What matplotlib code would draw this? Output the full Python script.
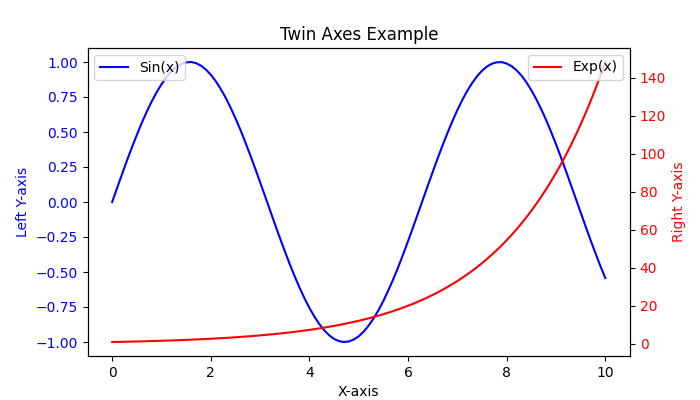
import matplotlib
matplotlib.use("Agg")
import matplotlib.pyplot as plt

# Values at a 0.1 step along the x-axis.
x_vals = [0.0, 0.1, 0.2, 0.3, 0.4, 0.5, 0.6, 0.7, 0.8, 0.9,
          1.0, 1.1, 1.2, 1.3, 1.4, 1.5, 1.6, 1.7, 1.8, 1.9,
          2.0, 2.1, 2.2, 2.3, 2.4, 2.5, 2.6, 2.7, 2.8, 2.9,
          3.0, 3.1, 3.2, 3.3, 3.4, 3.5, 3.6, 3.7, 3.8, 3.9,
          4.0, 4.1, 4.2, 4.3, 4.4, 4.5, 4.6, 4.7, 4.8, 4.9,
          5.0, 5.1, 5.2, 5.3, 5.4, 5.5, 5.6, 5.7, 5.8, 5.9,
          6.0, 6.1, 6.2, 6.3, 6.4, 6.5, 6.6, 6.7, 6.8, 6.9,
          7.0, 7.1, 7.2, 7.3, 7.4, 7.5, 7.6, 7.7, 7.8, 7.9,
          8.0, 8.1, 8.2, 8.3, 8.4, 8.5, 8.6, 8.7, 8.8, 8.9,
          9.0, 9.1, 9.2, 9.3, 9.4, 9.5, 9.6, 9.7, 9.8, 9.9,
          10.0]

sin_vals = [0.000, 0.100, 0.199, 0.296, 0.389, 0.479, 0.565, 0.644, 0.717, 0.783,
            0.841, 0.891, 0.932, 0.964, 0.985, 0.997, 1.000, 0.992, 0.974, 0.946,
            0.909, 0.863, 0.808, 0.746, 0.675, 0.598, 0.516, 0.427, 0.335, 0.239,
            0.141, 0.042, -0.058, -0.158, -0.256, -0.351, -0.443, -0.530, -0.612, -0.688,
            -0.757, -0.818, -0.872, -0.916, -0.952, -0.978, -0.994, -1.000, -0.996, -0.982,
            -0.959, -0.926, -0.883, -0.832, -0.773, -0.706, -0.631, -0.551, -0.465, -0.374,
            -0.279, -0.182, -0.083, 0.017, 0.117, 0.215, 0.312, 0.405, 0.494, 0.578,
            0.657, 0.729, 0.794, 0.850, 0.899, 0.938, 0.968, 0.988, 0.998, 0.999,
            0.989, 0.970, 0.941, 0.903, 0.855, 0.798, 0.734, 0.663, 0.585, 0.501,
            0.412, 0.319, 0.223, 0.124, 0.025, -0.075, -0.174, -0.272, -0.366, -0.458,
            -0.544]

exp_vals = [1.000, 1.051, 1.105, 1.162, 1.221, 1.284, 1.350, 1.419, 1.492, 1.568,
            1.649, 1.733, 1.822, 1.916, 2.014, 2.117, 2.226, 2.340, 2.460, 2.586,
            2.718, 2.858, 3.004, 3.158, 3.320, 3.490, 3.669, 3.857, 4.055, 4.263,
            4.482, 4.711, 4.953, 5.207, 5.474, 5.755, 6.050, 6.360, 6.686, 7.029,
            7.389, 7.768, 8.166, 8.585, 9.025, 9.488, 9.974, 10.486, 11.023, 11.588,
            12.182, 12.807, 13.464, 14.154, 14.880, 15.643, 16.445, 17.288, 18.174, 19.106,
            20.086, 21.115, 22.198, 23.336, 24.533, 25.790, 27.113, 28.503, 29.964, 31.500,
            33.115, 34.813, 36.598, 38.475, 40.447, 42.521, 44.701, 46.993, 49.402, 51.935,
            54.598, 57.397, 60.340, 63.434, 66.686, 70.105, 73.700, 77.478, 81.451, 85.627,
            90.017, 94.632, 99.484, 104.585, 109.947, 115.584, 121.510, 127.740, 134.290, 141.175,
            148.413]

fig, ax1 = plt.subplots(figsize=(7, 4), dpi=100)

ax1.plot(x_vals, sin_vals, color="blue", label="Sin(x)")
ax1.set_xlabel("X-axis")
ax1.set_ylabel("Left Y-axis", color="blue")
ax1.tick_params(axis="y", labelcolor="blue")
ax1.legend(loc="upper left")

ax2 = ax1.twinx()
ax2.plot(x_vals, exp_vals, color="red", label="Exp(x)")
ax2.set_ylabel("Right Y-axis", color="red")
ax2.tick_params(axis="y", labelcolor="red")
ax2.legend(loc="upper right")

ax1.set_title("Twin Axes Example")

fig.savefig("out.png")
